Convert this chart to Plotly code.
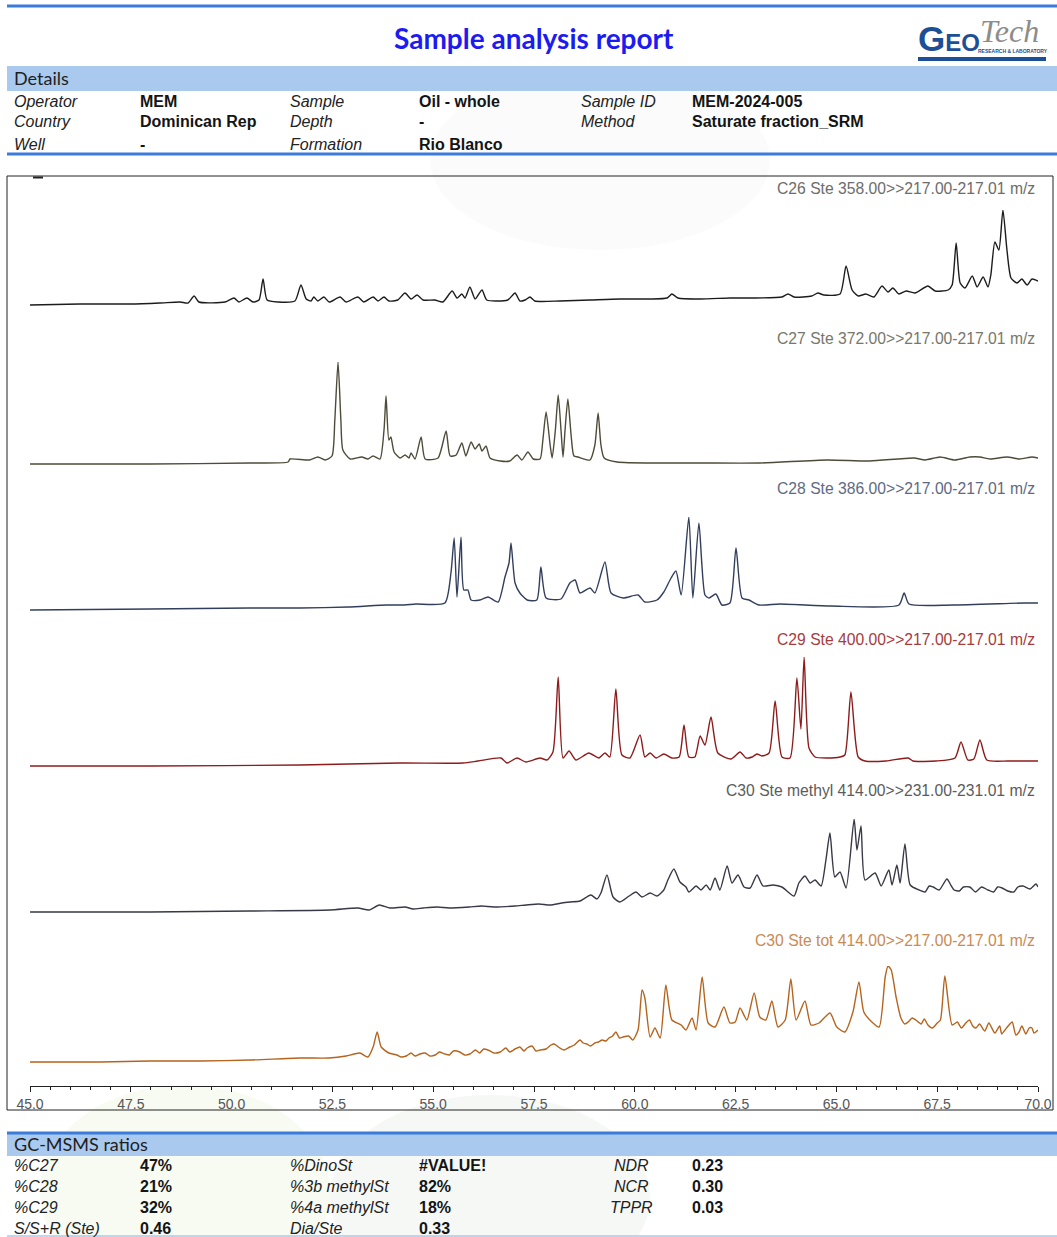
import plotly.graph_objects as go

W, H = 1057, 1237

# ---------------- data (retention time [min], relative abundance) ----------------
C26 = [(45.00, 5), (46.24, 6), (47.48, 6), (48.22, 7), (48.72, 8), (48.92, 7), (49.07, 14), (49.19, 8),
       (49.84, 8), (50.06, 12), (50.18, 8), (50.38, 12), (50.53, 8), (50.68, 10), (50.78, 31), (50.88, 10),
       (51.15, 8), (51.57, 9), (51.72, 25), (51.85, 11), (51.97, 9), (52.04, 13), (52.14, 9), (52.29, 13),
       (52.42, 8), (52.69, 13), (52.84, 8), (53.13, 13), (53.28, 8), (53.51, 13), (53.63, 9), (53.78, 13),
       (53.90, 9), (54.12, 10), (54.30, 17), (54.45, 11), (54.60, 15), (54.75, 10), (55.04, 10), (55.24, 8),
       (55.47, 19), (55.59, 12), (55.71, 16), (55.79, 12), (55.91, 23), (56.04, 11), (56.21, 20), (56.33, 10),
       (56.85, 10), (57.03, 17), (57.15, 9), (57.28, 10), (57.40, 13), (57.52, 9), (58.14, 9), (58.89, 10),
       (59.63, 11), (60.38, 11), (60.80, 12), (60.92, 16), (61.07, 12), (61.62, 11), (62.36, 12), (62.86, 12),
       (63.65, 13), (63.80, 16), (63.95, 13), (64.39, 14), (64.54, 17), (64.69, 15), (65.09, 16), (65.24, 44),
       (65.39, 20), (65.54, 14), (65.73, 16), (65.93, 13), (66.13, 24), (66.28, 18), (66.40, 22), (66.55, 16),
       (66.73, 19), (66.95, 17), (67.27, 24), (67.45, 19), (67.77, 20), (67.87, 25), (67.97, 67), (68.07, 27),
       (68.19, 22), (68.37, 34), (68.49, 23), (68.64, 33), (68.76, 23), (68.83, 35), (68.93, 68), (69.03, 60),
       (69.13, 100), (69.23, 60), (69.33, 32), (69.48, 27), (69.60, 31), (69.73, 25), (69.85, 31), (70.00, 29)]

C27 = [(45.00, 2), (47.98, 2), (50.46, 3), (51.40, 4), (51.45, 7), (51.94, 6), (52.14, 9), (52.32, 6),
       (52.49, 10), (52.56, 46), (52.64, 104), (52.71, 46), (52.76, 16), (52.94, 7), (53.23, 9), (53.38, 7),
       (53.51, 10), (53.68, 7), (53.78, 36), (53.83, 70), (53.90, 26), (53.95, 29), (54.03, 14), (54.18, 8),
       (54.30, 11), (54.40, 8), (54.45, 13), (54.55, 7), (54.70, 29), (54.80, 7), (55.12, 8), (55.32, 35),
       (55.42, 10), (55.57, 11), (55.71, 23), (55.81, 10), (55.94, 24), (56.04, 17), (56.14, 22), (56.21, 15),
       (56.31, 20), (56.41, 8), (56.66, 5), (56.90, 5), (57.08, 11), (57.20, 6), (57.35, 14), (57.48, 7),
       (57.65, 7), (57.72, 26), (57.80, 54), (57.90, 21), (57.95, 8), (58.03, 36), (58.10, 71), (58.17, 36),
       (58.22, 9), (58.27, 36), (58.34, 67), (58.42, 31), (58.49, 10), (58.59, 9), (58.89, 6), (59.01, 21),
       (59.09, 53), (59.16, 21), (59.24, 8), (59.56, 4), (60.63, 3), (61.62, 3), (63.10, 3), (64.77, 6),
       (65.83, 5), (66.92, 8), (67.20, 6), (67.57, 9), (67.94, 6), (68.31, 9), (68.56, 9), (68.81, 7),
       (69.23, 9), (69.55, 7), (69.85, 9), (70.00, 8)]

C28 = [(45.00, 2), (47.98, 3), (50.46, 4), (51.70, 4), (52.89, 5), (53.85, 7), (54.28, 7), (54.57, 8),
       (55.29, 9), (55.44, 39), (55.52, 74), (55.59, 15), (55.69, 75), (55.76, 22), (55.86, 22), (55.94, 12),
       (56.16, 12), (56.36, 15), (56.61, 10), (56.78, 35), (56.88, 49), (56.93, 69), (57.03, 29), (57.15, 19),
       (57.33, 12), (57.57, 12), (57.67, 45), (57.80, 14), (58.17, 13), (58.39, 29), (58.52, 32), (58.64, 19),
       (58.89, 24), (59.01, 19), (59.26, 50), (59.41, 19), (59.71, 14), (60.08, 17), (60.25, 10), (60.55, 12),
       (60.72, 20), (60.90, 34), (61.02, 41), (61.15, 17), (61.34, 95), (61.44, 14), (61.59, 89), (61.74, 17),
       (61.84, 14), (62.01, 18), (62.16, 7), (62.36, 9), (62.51, 64), (62.66, 14), (62.83, 12), (63.08, 7),
       (63.60, 8), (64.87, 6), (66.55, 7), (66.68, 19), (66.80, 8), (67.87, 7), (69.65, 9), (70.00, 9)]

C29 = [(45.00, 2), (47.98, 2), (51.70, 3), (54.18, 5), (55.74, 5), (56.11, 7), (56.68, 10), (56.83, 5),
       (57.08, 10), (57.30, 6), (57.65, 10), (57.82, 8), (57.97, 16), (58.10, 91), (58.22, 10), (58.37, 17),
       (58.54, 8), (58.86, 15), (59.11, 10), (59.26, 15), (59.38, 11), (59.53, 79), (59.68, 13), (59.88, 10),
       (60.13, 33), (60.25, 11), (60.38, 15), (60.53, 10), (60.72, 14), (60.92, 10), (61.10, 11), (61.22, 43),
       (61.34, 11), (61.49, 11), (61.62, 32), (61.74, 23), (61.89, 51), (62.06, 15), (62.39, 9), (62.61, 16),
       (62.76, 10), (62.91, 11), (63.03, 14), (63.15, 12), (63.33, 15), (63.48, 67), (63.65, 11), (63.85, 10),
       (64.02, 90), (64.12, 39), (64.20, 111), (64.32, 20), (64.47, 11), (64.77, 10), (65.09, 11), (65.21, 13),
       (65.36, 76), (65.54, 11), (65.71, 7), (66.23, 7), (66.78, 10), (66.90, 7), (67.47, 7), (67.94, 10),
       (68.09, 26), (68.26, 8), (68.41, 9), (68.56, 28), (68.73, 8), (69.26, 7), (70.00, 7)]

C30_METHYL = [(45.00, 2), (47.98, 2), (50.46, 3), (52.44, 4), (53.13, 6), (53.41, 4), (53.66, 9), (53.93, 6),
              (54.30, 7), (54.50, 5), (54.75, 6), (55.10, 7), (55.40, 6), (55.89, 7), (56.20, 8), (56.50, 7),
              (57.03, 8), (57.30, 9), (57.62, 10), (57.90, 9), (58.19, 11), (58.40, 12), (58.64, 13), (58.91, 19),
              (59.06, 15),
              (59.16, 21), (59.31, 39), (59.46, 17), (59.63, 12), (59.86, 18), (60.03, 22), (60.18, 17), (60.38, 21),
              (60.55, 18), (60.72, 24), (60.82, 34), (60.97, 45), (61.12, 32), (61.27, 27), (61.34, 22), (61.52, 28),
              (61.64, 24), (61.77, 29), (61.87, 24), (61.99, 36), (62.11, 24), (62.29, 48), (62.41, 31), (62.56, 39),
              (62.71, 27), (62.86, 26), (63.03, 39), (63.18, 28), (63.43, 29), (63.65, 27), (63.95, 18), (64.07, 31),
              (64.22, 38), (64.35, 31), (64.47, 34), (64.62, 28), (64.74, 54), (64.84, 81), (64.96, 37), (65.09, 42),
              (65.24, 26), (65.44, 95), (65.51, 64), (65.61, 88), (65.71, 34), (65.96, 41), (66.11, 28), (66.30, 44),
              (66.38, 29), (66.50, 49), (66.58, 31), (66.70, 70), (66.83, 29), (67.05, 24), (67.20, 22), (67.30, 28),
              (67.40, 27), (67.55, 24), (67.74, 35), (67.85, 28), (67.92, 24), (68.05, 23), (68.15, 27), (68.31, 27),
              (68.45, 22), (68.60, 27), (68.76, 24), (68.90, 22), (69.00, 27), (69.11, 26), (69.25, 23), (69.40, 22),
              (69.50, 27), (69.63, 28), (69.80, 25), (69.95, 30), (70.00, 27)]

C30_TOT = [(45.00, 2), (46.74, 2), (47.98, 3), (49.22, 3), (50.46, 4), (51.70, 6), (52.42, 6), (52.84, 8),
           (53.18, 11), (53.38, 7), (53.51, 17), (53.61, 32), (53.71, 17), (53.90, 11), (54.10, 9), (54.20, 7),
           (54.33, 8), (54.45, 11), (54.55, 8), (54.67, 10), (54.80, 11), (54.92, 8), (55.05, 9), (55.15, 12),
           (55.29, 10), (55.40, 9), (55.50, 13), (55.66, 12), (55.78, 9), (55.91, 10), (56.05, 14), (56.15, 11),
           (56.25, 15), (56.36, 14), (56.50, 11), (56.66, 12), (56.80, 16), (56.90, 12), (57.03, 15), (57.15, 17),
           (57.25, 13), (57.33, 16), (57.45, 18), (57.55, 13), (57.65, 14), (57.80, 15), (57.92, 19), (58.00, 20),
           (58.14, 16), (58.25, 14), (58.39, 17), (58.50, 19), (58.64, 24), (58.72, 21), (58.81, 20), (58.90, 18),
           (59.01, 21), (59.10, 22), (59.19, 24), (59.28, 23), (59.36, 26), (59.45, 28), (59.53, 32), (59.62, 26),
           (59.71, 27), (59.85, 28), (59.95, 24), (60.08, 34), (60.18, 74), (60.25, 66), (60.38, 27),
           (60.50, 36), (60.63, 26), (60.77, 79), (60.92, 44), (61.15, 39), (61.27, 34), (61.42, 46), (61.52, 34),
           (61.67, 87), (61.82, 41), (61.99, 37), (62.21, 57), (62.36, 41), (62.49, 42), (62.61, 56), (62.78, 44),
           (62.96, 71), (63.10, 47), (63.25, 44), (63.40, 63), (63.55, 37), (63.73, 44), (63.87, 85), (64.00, 44),
           (64.22, 63), (64.37, 39), (64.57, 41), (64.84, 51), (65.01, 37), (65.21, 32), (65.41, 52), (65.56, 82),
           (65.68, 52), (65.88, 42), (66.06, 37), (66.21, 87), (66.28, 98), (66.36, 94), (66.48, 67), (66.60, 46),
           (66.70, 40), (66.78, 42), (66.88, 46), (66.97, 44), (67.10, 40), (67.18, 45), (67.27, 39), (67.38, 36),
           (67.50, 41), (67.58, 44), (67.69, 88), (67.87, 39), (68.00, 42), (68.10, 36), (68.21, 41), (68.30, 44),
           (68.38, 38), (68.46, 36), (68.55, 40), (68.68, 33), (68.78, 41), (68.93, 31), (69.05, 38), (69.10, 30),
           (69.18, 34), (69.26, 38), (69.36, 42), (69.45, 29), (69.53, 32), (69.60, 38), (69.70, 30), (69.78, 36),
           (69.85, 36), (69.90, 31), (70.00, 34)]

TRACE_LABELS = ["C26 Ste 358.00>>217.00-217.01 m/z",
                "C27 Ste 372.00>>217.00-217.01 m/z",
                "C28 Ste 386.00>>217.00-217.01 m/z",
                "C29 Ste 400.00>>217.00-217.01 m/z",
                "C30 Ste methyl 414.00>>231.00-231.01 m/z",
                "C30 Ste tot 414.00>>217.00-217.01 m/z"]

X_TICKS = [45.0, 47.5, 50.0, 52.5, 55.0, 57.5, 60.0, 62.5, 65.0, 67.5, 70.0]

DETAILS = [["Operator", "MEM", "Sample", "Oil - whole", "Sample ID", "MEM-2024-005"],
           ["Country", "Dominican Rep", "Depth", "-", "Method", "Saturate fraction_SRM"],
           ["Well", "-", "Formation", "Rio Blanco", "", ""]]

RATIOS = [["%C27", "47%", "%DinoSt", "#VALUE!", "NDR", "0.23"],
          ["%C28", "21%", "%3b methylSt", "82%", "NCR", "0.30"],
          ["%C29", "32%", "%4a methylSt", "18%", "TPPR", "0.03"],
          ["S/S+R (Ste)", "0.46", "Dia/Ste", "0.33", "", ""]]

# ---------------- layout helpers ----------------
def X(px):
    return px / W


def Y(py):
    return 1 - py / H


SANS = "Liberation Sans"
CAL = "Lato"

fig = go.Figure()

panels = [
    dict(pts=C26, color="#1c1c1c", lc="#6c6c6c", base=310, top=210, ly=188),
    dict(pts=C27, color="#4e4b38", lc="#77776a", base=466, top=362, ly=338),
    dict(pts=C28, color="#323e5c", lc="#5e6a84", base=612, top=517, ly=489),
    dict(pts=C29, color="#8e1b1b", lc="#a63c3c", base=768, top=657, ly=639),
    dict(pts=C30_METHYL, color="#383846", lc="#5c5c5c", base=914, top=819, ly=790),
    dict(pts=C30_TOT, color="#b5631d", lc="#c98a55", base=1064, top=966, ly=940),
]

layout_axes = {}
annotations = []
for k, (p, lab) in enumerate(zip(panels, TRACE_LABELS)):
    yname = "y" if k == 0 else f"y{k + 1}"
    ykey = "yaxis" if k == 0 else f"yaxis{k + 1}"
    pts = sorted(p["pts"])
    rt = [a for a, _ in pts]
    ab = [b for _, b in pts]
    fig.add_trace(go.Scatter(x=rt, y=ab, mode="lines", xaxis="x", yaxis=yname,
                             line=dict(color=p["color"], width=1.4, shape="spline", smoothing=0.6),
                             showlegend=False, hoverinfo="skip"))
    layout_axes[ykey] = dict(domain=[Y(p["base"]), Y(p["top"])], range=[0, p["base"] - p["top"]],
                             visible=False, anchor="x", fixedrange=True, automargin=False)
    annotations.append(dict(x=X(1037), y=Y(p["ly"]), xref="paper", yref="paper", text=lab,
                            showarrow=False, xanchor="right", yanchor="middle",
                            font=dict(family=SANS, size=15.7, color=p["lc"])))


def txt(px, py, s, size, color="#1a1a1a", family=SANS, xanchor="left"):
    annotations.append(dict(x=X(px), y=Y(py), xref="paper", yref="paper", text=s, showarrow=False,
                            xanchor=xanchor, yanchor="middle", font=dict(family=family, size=size, color=color)))


# title & logo
txt(534, 38, "<b>Sample analysis report</b>", 28, "#1c1cf0", CAL, "center")
txt(916, 39, "<b><span style='font-size:35px'>G</span>EO</b>", 24, "#1d4f96", SANS)
txt(978, 31, "<i>Tech</i>", 32, "#8c8c8c", "Liberation Serif")
txt(1013, 51, "<b>RESEARCH &amp; LABORATORY</b>", 5, "#1d4f96", SANS, "center")

# details
txt(12, 78, "Details", 18, "#1e1e1e", CAL)
row_y = [102, 122, 144]
cols = [(12, "l"), (138, "v"), (288, "l"), (417, "v"), (579, "l"), (690, "v")]
for r, row in enumerate(DETAILS):
    for (cx, kind), s in zip(cols, row):
        if not s:
            continue
        if kind == "l":
            txt(cx, row_y[r], f"<i>{s}</i>", 16, "#222222")
        else:
            txt(cx, row_y[r], f"<b>{s}</b>", 16, "#141414")

# ratios
txt(12, 1144, "GC-MSMS ratios", 18, "#1e1e1e", CAL)
rrow_y = [1165, 1186, 1207, 1228]
rcols = [(12, "l", "left"), (138, "v", "left"), (288, "l", "left"), (417, "v", "left"),
         (631, "l", "center"), (690, "v", "left")]
for r, row in enumerate(RATIOS):
    for (cx, kind, anc), s in zip(rcols, row):
        if not s:
            continue
        if kind == "l":
            txt(cx, rrow_y[r], f"<i>{s}</i>", 16, "#222222", SANS, anc)
        else:
            txt(cx, rrow_y[r], f"<b>{s}</b>", 16, "#141414", SANS, anc)

BLUE = "#3a7bdb"
BAND = "#a9c9ef"
shapes = [
    # faint watermark
    dict(type="circle", xref="paper", yref="paper", x0=X(430), x1=X(770), y0=Y(250), y1=Y(70),
         fillcolor="rgba(190,205,178,0.07)", line=dict(width=0), layer="below"),
    dict(type="circle", xref="paper", yref="paper", x0=X(40), x1=X(330), y0=Y(1300), y1=Y(1085),
         fillcolor="rgba(200,225,170,0.15)", line=dict(width=0), layer="below"),
    dict(type="circle", xref="paper", yref="paper", x0=X(330), x1=X(650), y0=Y(1300), y1=Y(1095),
         fillcolor="rgba(180,200,170,0.12)", line=dict(width=0), layer="below"),
    # header
    dict(type="line", xref="paper", yref="paper", x0=X(7), x1=X(1057), y0=Y(6), y1=Y(6),
         line=dict(color=BLUE, width=3)),
    dict(type="rect", xref="paper", yref="paper", x0=X(7), x1=X(1057), y0=Y(91), y1=Y(66),
         fillcolor=BAND, line=dict(width=0), layer="below"),
    dict(type="line", xref="paper", yref="paper", x0=X(7), x1=X(1057), y0=Y(154), y1=Y(154),
         line=dict(color=BLUE, width=3)),
    # logo bar
    dict(type="rect", xref="paper", yref="paper", x0=X(918), x1=X(1046), y0=Y(61), y1=Y(57),
         fillcolor="#1d4f96", line=dict(width=0)),
    # chart frame
    dict(type="rect", xref="paper", yref="paper", x0=X(7), x1=X(1053), y0=Y(1110), y1=Y(176),
         line=dict(color="#222222", width=1)),
    dict(type="line", xref="paper", yref="paper", x0=X(33), x1=X(43), y0=Y(177.5), y1=Y(177.5),
         line=dict(color="#222222", width=2)),
    # ratios block
    dict(type="line", xref="paper", yref="paper", x0=X(7), x1=X(1057), y0=Y(1133), y1=Y(1133),
         line=dict(color=BLUE, width=3)),
    dict(type="rect", xref="paper", yref="paper", x0=X(7), x1=X(1057), y0=Y(1156), y1=Y(1134),
         fillcolor=BAND, line=dict(width=0), layer="below"),
    dict(type="line", xref="paper", yref="paper", x0=X(7), x1=X(1057), y0=Y(1236), y1=Y(1236),
         line=dict(color=BAND, width=1.5)),
]

fig.update_layout(
    width=W, height=H, autosize=False,
    margin=dict(l=0, r=0, t=0, b=0, autoexpand=False),
    paper_bgcolor="white", plot_bgcolor="rgba(0,0,0,0)",
    showlegend=False,
    xaxis=dict(domain=[X(30), X(1038)], range=[45, 70], anchor="free", position=Y(1086),
               automargin=False,
               showline=True, linecolor="#222222", linewidth=1, mirror=False,
               tickmode="array", tickvals=X_TICKS, ticktext=[f"{v:.1f}" for v in X_TICKS],
               ticks="outside", ticklen=5, tickwidth=1, tickcolor="#222222",
               minor=dict(dtick=0.5, tick0=45, ticks="outside", ticklen=3, tickcolor="#222222"),
               tickfont=dict(family=SANS, size=14, color="#555555"),
               showgrid=False, zeroline=False, fixedrange=True),
    annotations=annotations,
    shapes=shapes,
    **layout_axes,
)

PAGE_CSS = ("document.documentElement.style.margin='0';document.documentElement.style.overflow='hidden';"
            "document.body.style.margin='0';document.body.style.padding='0';document.body.style.overflow='hidden';")

fig.write_html("out.html", config={"responsive": False, "displayModeBar": False}, post_script=PAGE_CSS)
